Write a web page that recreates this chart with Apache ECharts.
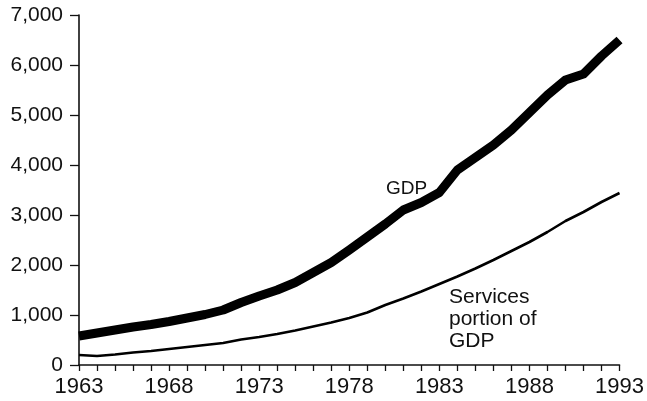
<!DOCTYPE html>
<html>
<head>
<meta charset="utf-8">
<script src="https://cdn.jsdelivr.net/npm/echarts@6/dist/echarts.min.js"></script>
<style>
html,body{margin:0;padding:0;background:#fff;}
#chart{width:647px;height:401px;}
</style>
</head>
<body>
<div id="chart"></div>
<script>
var years = [1963,1964,1965,1966,1967,1968,1969,1970,1971,1972,1973,1974,1975,1976,1977,1978,1979,1980,1981,1982,1983,1984,1985,1986,1987,1988,1989,1990,1991,1992,1993];
var gdp = [580,640,700,760,810,870,940,1010,1100,1250,1380,1500,1650,1850,2050,2300,2560,2820,3100,3250,3450,3900,4150,4400,4700,5050,5400,5700,5820,6180,6500];
var services = [200,180,210,250,280,320,360,400,440,510,560,620,690,770,850,940,1050,1200,1330,1470,1620,1770,1930,2100,2280,2460,2660,2880,3060,3260,3440];
var yTicks = [0,1000,2000,3000,4000,5000,6000,7000];
var xLabelYears = [1963,1968,1973,1978,1983,1988,1993];

function pairs(xs, ys){ return xs.map(function(x,i){ return [x, ys[i]]; }); }

var FONT = '"Liberation Sans", Arial, sans-serif';
var INK = '#111';

var chart = echarts.init(document.getElementById('chart'), null, {renderer:'canvas'});
chart.setOption({
  animation:false,
  backgroundColor:'#fff',
  grid:{left:79, right:22, top:15, bottom:36, containLabel:false},
  xAxis:{
    type:'value', min:1963, max:1993, interval:1,
    splitLine:{show:false},
    axisLine:{show:true, onZero:false, lineStyle:{color:INK, width:1.6}},
    axisTick:{show:true, length:6, lineStyle:{color:INK, width:1.3}},
    axisLabel:{
      show:true, margin:11, color:INK, fontFamily:FONT, fontSize:22,
      formatter:function(v){ return xLabelYears.indexOf(v) >= 0 ? String(v) : ''; }
    }
  },
  yAxis:{
    type:'value', min:0, max:7000, interval:1000,
    splitLine:{show:false},
    axisLine:{show:true, lineStyle:{color:INK, width:1.6}},
    axisTick:{show:true, length:9, lineStyle:{color:INK, width:1.3}},
    axisLabel:{
      show:true, margin:16, color:INK, fontFamily:FONT, fontSize:21,
      formatter:function(v){ return yTicks.indexOf(v) >= 0 ? v.toLocaleString('en-US') : ''; }
    }
  },
  series:[
    {name:'GDP', type:'line', data:pairs(years,gdp), showSymbol:false, smooth:false,
     lineStyle:{color:'#000', width:9, cap:'butt', join:'round'}},
    {name:'Services portion of GDP', type:'line', data:pairs(years,services), showSymbol:false, smooth:false,
     lineStyle:{color:'#000', width:2.6, join:'round'}}
  ],
  graphic:[
    {type:'text', left:386, top:179, style:{text:'GDP', font:'19px '+FONT, fill:INK}},
    {type:'text', left:449, top:286, style:{text:'Services\nportion of\nGDP', font:'21px '+FONT, fill:INK, lineHeight:22}}
  ]
});
</script>
</body>
</html>
